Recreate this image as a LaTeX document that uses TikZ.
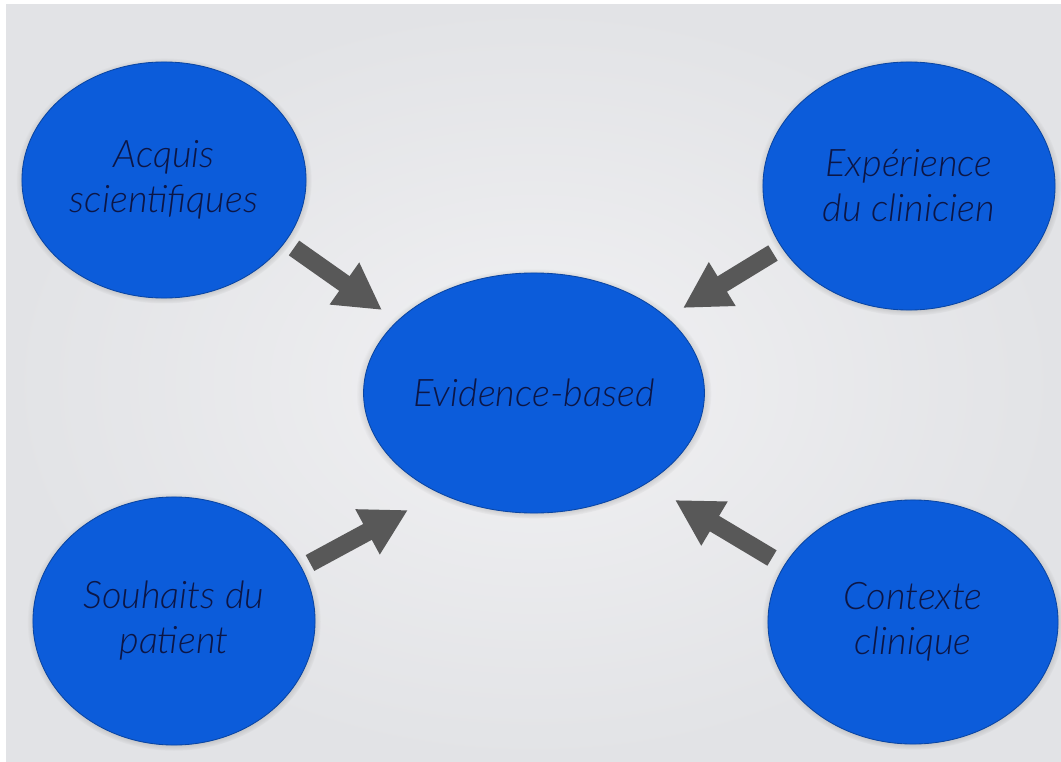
\documentclass[tikz,border=0pt]{standalone}
\usepackage{fontspec}
\setmainfont{Lato}
\IfFontExistsTF{Lato Light}
    {\newfontfamily\bubblefont{Lato Light}[ItalicFont={Lato Light/I}]}
    {\newfontfamily\bubblefont{Lato}}
\usepackage{tikz}
\usetikzlibrary{shapes.geometric,arrows.meta,shadows,positioning}
\usepackage{xcolor}

\definecolor{bubbleblue}{RGB}{12,92,218}
\definecolor{bubbletext}{RGB}{12,22,70}
\definecolor{pushgray}{RGB}{88,88,88}
\definecolor{bgin}{RGB}{241,241,243}
\definecolor{bgout}{RGB}{226,227,230}

\begin{document}
\begin{tikzpicture} [
    x = 0.025cm, y = -0.025cm,
    bubble/.style = { ellipse, fill = bubbleblue, inner sep = 0, align = center,
        draw = bubbleblue!75!black, line width = 0.6pt,
        text = bubbletext, font = \fontsize{27}{32}\bubblefont\itshape,
        circular drop shadow={shadow xshift=0pt,shadow yshift=-0.5pt,shadow scale=1.04,opacity=0.9} },
    push/.style = { line width = 0.45cm, draw = pushgray,
        -{Triangle[width = 1.2cm, length = 1.15cm]} }
    ]

    \useasboundingbox (0,0) rectangle (1061,762);
    \fill[white] (0,0) rectangle (1061,762);
    \shade[inner color = bgin, outer color = bgout] (6,5) rectangle (1061,762);

    \node[bubble, minimum width = 7.1cm, minimum height = 5.9cm] (acquis) at (164,180) {Acquis\\scientifiques};
    \node[bubble, minimum width = 7.3cm, minimum height = 6.2cm] (experience) at (909,186) {Expérience\\du clinicien};
    \node[bubble, minimum width = 7.15cm, minimum height = 6.0cm] (evidence) at (534,393) {Evidence-based};
    \node[bubble, minimum width = 7.05cm, minimum height = 6.2cm] (souhaits) at (174,621) {Souhaits du\\patient};
    \node[bubble, minimum width = 7.25cm, minimum height = 6.1cm] (contexte) at (913,622) {Contexte\\clinique};

    % arrow ends
    \coordinate (acquis-out) at (294,248);
    \coordinate (evidence-nw) at (382,310);
    \coordinate (experience-out) at (773,253);
    \coordinate (evidence-ne) at (683,308);
    \coordinate (souhaits-out) at (310,563);
    \coordinate (evidence-sw) at (408,510);
    \coordinate (contexte-out) at (772,558);
    \coordinate (evidence-se) at (675,500);

    \draw[push] (acquis-out) -- (evidence-nw);
    \draw[push] (experience-out) -- (evidence-ne);
    \draw[push] (souhaits-out) -- (evidence-sw);
    \draw[push] (contexte-out) -- (evidence-se);

\end{tikzpicture}
\end{document}
